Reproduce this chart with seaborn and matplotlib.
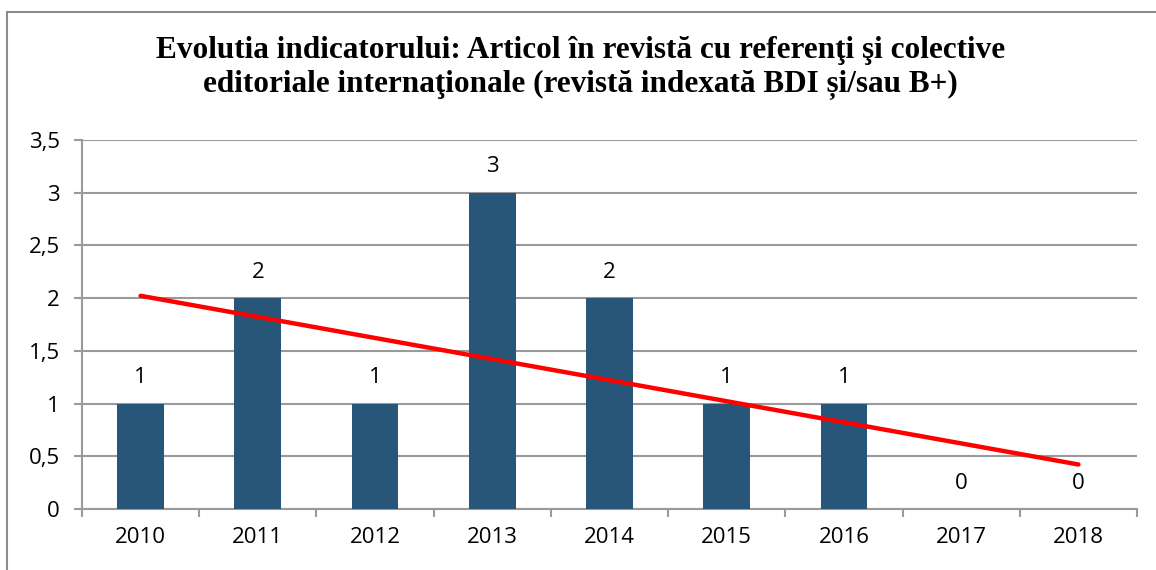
import numpy as np
import pandas as pd
import matplotlib
matplotlib.use("Agg")
import matplotlib.pyplot as plt
from matplotlib.patches import Rectangle
import seaborn as sns

years = ["2010", "2011", "2012", "2013", "2014", "2015", "2016", "2017", "2018"]
articles = [1, 2, 1, 3, 2, 1, 1, 0, 0]
y_ticks = [0, 0.5, 1, 1.5, 2, 2.5, 3, 3.5]
y_tick_labels = ["0", "0,5", "1", "1,5", "2", "2,5", "3", "3,5"]
title = ("Evolutia indicatorului: Articol în revistă cu referenţi şi colective\n"
         "editoriale internaţionale (revistă indexată BDI și/sau B+)")

sns.set_theme(style="white")
plt.rcParams["font.family"] = ["Open Sans", "DejaVu Sans"]
plt.rcParams["text.color"] = "black"

df = pd.DataFrame({"an": years, "articole": articles})

fig = plt.figure(figsize=(11.56, 5.70), dpi=100)
ax = fig.add_axes([0.0709, 0.107, 0.9127, 0.6474])

# outer frame of the chart area
fig.patches.append(Rectangle((7 / 1156, -0.1), 1.5, 1.1 - 12 / 570,
                             transform=fig.transFigure, fill=False,
                             edgecolor="#8c8c8c", linewidth=1.5, zorder=0))

sns.barplot(data=df, x="an", y="articole", color="#285679", width=0.4,
            saturation=1, linewidth=0, ax=ax, zorder=3)

# linear trend over the yearly values
xs = np.arange(len(articles))
slope, intercept = np.polyfit(xs, articles, 1)
ax.plot(xs, slope * xs + intercept, color="#ff0000", linewidth=3.2,
        solid_capstyle="round", zorder=4)

for i, v in enumerate(articles):
    ax.annotate(str(v), (i, v), xytext=(0, 11), textcoords="offset points",
                ha="center", va="bottom", fontsize=16, color="black")

ax.set_xlim(-0.5, len(years) - 0.5)
ax.set_ylim(0, 3.5)
ax.set_yticks(y_ticks)
ax.set_yticklabels(y_tick_labels)
ax.yaxis.grid(True, color="#9a9a9a", linewidth=1.5)
ax.set_axisbelow(True)
ax.set_xlabel("")
ax.set_ylabel("")

for s in ["top", "right"]:
    ax.spines[s].set_visible(False)
for s in ["left", "bottom"]:
    ax.spines[s].set_color("#9a9a9a")
    ax.spines[s].set_linewidth(1.5)

ax.set_xticks(np.arange(-0.5, len(years), 1), minor=True)
ax.tick_params(axis="x", which="major", length=0, labelsize=16, pad=13,
               labelcolor="black")
ax.tick_params(axis="x", which="minor", bottom=True, length=6, width=1.5,
               color="#9a9a9a")
ax.tick_params(axis="y", left=True, length=6, width=1.5, color="#9a9a9a",
               labelsize=16, pad=10, labelcolor="black")

fig.text(0.502, 0.881, title, ha="center", va="center", fontsize=22.5,
         fontweight="bold", color="black",
         family=["Liberation Serif", "DejaVu Serif"], linespacing=1.22)

fig.savefig("out.png", dpi=100)
